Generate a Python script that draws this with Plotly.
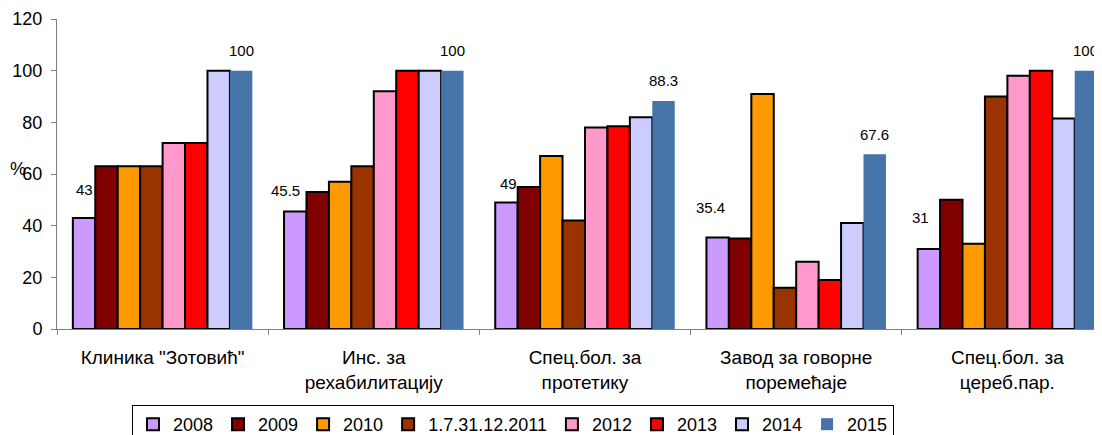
import plotly.graph_objects as go

CATEGORIES = [
    "Клиника \"Зотовић\"",
    "Инс. за<br>рехабилитацију",
    "Спец.бол. за<br>протетику",
    "Завод за говорне<br>поремећаје",
    "Спец.бол. за<br>цереб.пар.",
]

SERIES_NAMES = ["2008", "2009", "2010", "1.7.31.12.2011", "2012", "2013", "2014", "2015"]

V_2008 = [43, 45.5, 49, 35.4, 31]
V_2009 = [63, 53, 55, 35, 50]
V_2010 = [63, 57, 67, 91, 33]
V_2011 = [63, 63, 42, 16, 90]
V_2012 = [72, 92, 78, 26, 98]
V_2013 = [72, 100, 78.5, 19, 100]
V_2014 = [100, 100, 82, 41, 81.5]
V_2015 = [100, 100, 88.3, 67.6, 100]

Y_TICKS = [0, 20, 40, 60, 80, 100, 120]

SERIES = [V_2008, V_2009, V_2010, V_2011, V_2012, V_2013, V_2014, V_2015]

COLORS = ["#CC99FF", "#800000", "#FF9900", "#993300", "#FF99CC", "#FF0000", "#CCCCFF", "#4674A8"]

FONT = "Arial, 'Liberation Sans', sans-serif"
BARGAP = 0.15

# the page body keeps its default 8px margin, so the figure is 8px smaller
# than the window and all offsets below are relative to that
FIG_W, FIG_H = 1094, 427

# pixel nudges for the 2008 labels (Excel placed them a bit loosely)
NUDGE_2008 = [(0, 28), (-10, 21), (2, 19), (-7, 30), (-8, 31)]

fig = go.Figure()
for name, vals, color in zip(SERIES_NAMES, SERIES, COLORS):
    outline = 0 if name == "2015" else 2
    fig.add_trace(
        go.Bar(
            x=CATEGORIES,
            y=vals,
            name=name,
            marker={"color": color, "line": {"color": "#000000", "width": outline}},
        )
    )

# bar centres in category units, from the group layout
n = len(SERIES)
bar_w = (1 - BARGAP) / n


def bar_center(cat_idx, series_idx):
    return cat_idx - (1 - BARGAP) / 2 + (series_idx + 0.5) * bar_w


annotations = []
for i, v in enumerate(V_2008):
    dx, dy = NUDGE_2008[i]
    annotations.append(
        dict(x=bar_center(i, 0), y=v, xref="x", yref="y", text=f"{v:g}",
             showarrow=False, xshift=dx, yshift=dy, yanchor="middle",
             font={"size": 15, "color": "#000000", "family": FONT})
    )
for i, v in enumerate(V_2015):
    annotations.append(
        dict(x=bar_center(i, n - 1), y=v, xref="x", yref="y", text=f"{v:g}",
             showarrow=False, yshift=20, yanchor="middle",
             font={"size": 15, "color": "#000000", "family": FONT})
    )

# axis title "%" sits over the 60 tick, as in the source
annotations.append(
    dict(x=-0.047, y=62, xref="paper", yref="y", text="%", showarrow=False,
         font={"size": 18, "color": "#000000", "family": FONT})
)

# stubs of the document text cut off at the top edge
for px in (0.898, 0.933):
    annotations.append(
        dict(x=px, y=1, xref="paper", yref="paper", text="р", showarrow=False,
             yanchor="bottom", yshift=10,
             font={"size": 22, "color": "#000000", "family": "'Liberation Serif', serif"})
    )

fig.update_layout(
    width=FIG_W,
    height=FIG_H,
    barmode="group",
    bargap=BARGAP,
    bargroupgap=0,
    plot_bgcolor="#FFFFFF",
    paper_bgcolor="#FFFFFF",
    margin={"l": 49, "r": 0, "t": 11, "b": 106},
    font={"family": FONT, "color": "#000000"},
    showlegend=True,
    legend={
        "orientation": "h",
        "xref": "container",
        "yref": "container",
        "x": 0.4616,
        "xanchor": "center",
        "y": 0.0703,
        "yanchor": "top",
        "bordercolor": "#000000",
        "borderwidth": 1,
        "font": {"size": 18, "family": FONT},
        "itemwidth": 30,
        "tracegroupgap": 0,
    },
    xaxis={
        "type": "category",
        "range": [-0.5, 4.448],
        "automargin": False,
        "showline": True,
        "linecolor": "#808080",
        "linewidth": 1,
        "ticks": "outside",
        "tickson": "boundaries",
        "ticklen": 5,
        "tickcolor": "#808080",
        "showgrid": False,
        "tickfont": {"size": 19, "family": FONT, "color": "#000000"},
        "ticklabelstandoff": 11,
    },
    yaxis={
        "range": [0, 120],
        "automargin": False,
        "tickvals": Y_TICKS,
        "showline": True,
        "linecolor": "#808080",
        "linewidth": 1,
        "ticks": "outside",
        "ticklen": 5,
        "tickcolor": "#808080",
        "showgrid": False,
        "zeroline": False,
        "tickfont": {"size": 18, "family": FONT, "color": "#000000"},
        "ticklabelstandoff": 5,
    },
    annotations=annotations,
)

fig.write_html("out.html")
